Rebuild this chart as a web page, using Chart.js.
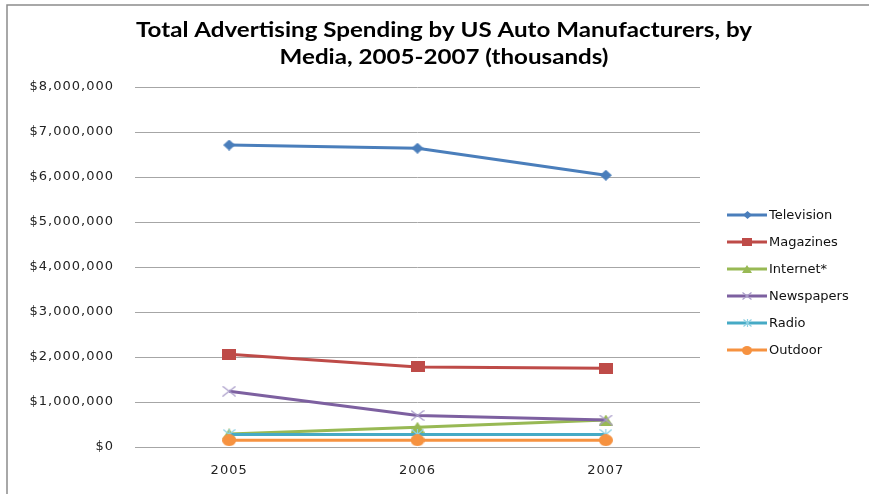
<!DOCTYPE html>
<html><head><meta charset="utf-8">
<script src="https://cdn.jsdelivr.net/npm/chart.js@4.4.1/dist/chart.umd.min.js"></script>
<style>html,body{margin:0;padding:0;background:#fff}#wrap{width:869px;height:494px;position:relative}</style>
</head><body><div id="wrap"><canvas id="c" width="869" height="494"></canvas></div>
<script>
// ---- data (thousands of US$) ----
const years = ['2005', '2006', '2007'];
const seriesNames = ['Television', 'Magazines', 'Internet*', 'Newspapers', 'Radio', 'Outdoor'];
const television = [6710000, 6640000, 6040000];
const magazines  = [2060000, 1780000, 1750000];
const internet   = [290000, 440000, 600000];
const newspapers = [1240000, 700000, 600000];
const radio      = [280000, 280000, 280000];
const outdoor    = [150000, 150000, 150000];
const yTicks = [0, 1000000, 2000000, 3000000, 4000000, 5000000, 6000000, 7000000, 8000000];
const titleLines = ['Total Advertising Spending by US Auto Manufacturers, by', 'Media, 2005-2007 (thousands)'];

const lineColors = ['#4A7EBB', '#BE4B48', '#98B954', '#7D60A0', '#46AAC5', '#F69240'];
const markerColors = ['#4A7EBB', '#BE4B48', '#98B954', '#A99CC9', '#8ED0E2', '#F69240'];
const markerKinds = ['diamond', 'square', 'triangle', 'x', 'star', 'circle'];

function makeMarker(kind, color, w, h) {
  const c = document.createElement('canvas');
  c.width = w; c.height = h;
  const g = c.getContext('2d');
  g.fillStyle = color; g.strokeStyle = color; g.lineWidth = 1.2;
  const cx = w / 2, cy = h / 2;
  g.beginPath();
  if (kind === 'diamond') {
    g.moveTo(cx, 0); g.lineTo(w, cy); g.lineTo(cx, h); g.lineTo(0, cy); g.closePath(); g.fill();
  } else if (kind === 'square') {
    g.rect(0, 0, w, h); g.fill();
  } else if (kind === 'triangle') {
    g.moveTo(cx, 0); g.lineTo(w, h); g.lineTo(0, h); g.closePath(); g.fill();
  } else if (kind === 'x') {
    g.moveTo(0.5, 0.5); g.lineTo(w - 0.5, h - 0.5); g.moveTo(w - 0.5, 0.5); g.lineTo(0.5, h - 0.5); g.stroke();
  } else if (kind === 'star') {
    g.moveTo(0.5, 0.5); g.lineTo(w - 0.5, h - 0.5); g.moveTo(w - 0.5, 0.5); g.lineTo(0.5, h - 0.5);
    g.moveTo(cx, 0); g.lineTo(cx, h); g.stroke();
  } else {
    g.ellipse(cx, cy, w / 2, h / 2, 0, 0, Math.PI * 2); g.fill();
  }
  return c;
}
const markerSizes = [[12, 11], [14, 11], [14, 11], [14, 11], [13, 11], [14, 12]];
const markers = markerKinds.map((k, i) => makeMarker(k, markerColors[i], markerSizes[i][0], markerSizes[i][1]));
const legendMarkers = markerKinds.map((k, i) => makeMarker(k, markerColors[i], Math.round(markerSizes[i][0] * 0.72), Math.round(markerSizes[i][1] * 0.72)));

const seriesValues = [television, magazines, internet, newspapers, radio, outdoor];
const datasets = seriesNames.map((name, i) => ({
  label: name,
  data: seriesValues[i],
  borderColor: lineColors[i],
  backgroundColor: lineColors[i],
  borderWidth: 3,
  pointStyle: markers[i],
  pointRadius: 6,
  tension: 0,
  order: seriesNames.length - i
}));

const decor = {
  id: 'decor',
  beforeDraw(chart) {
    const ctx = chart.ctx;
    ctx.save();
    ctx.fillStyle = '#fff';
    ctx.fillRect(0, 0, chart.width, chart.height);
    ctx.strokeStyle = '#8c8c8c';
    ctx.lineWidth = 1.5;
    ctx.beginPath();
    ctx.moveTo(7, 494); ctx.lineTo(7, 5); ctx.lineTo(869, 5);
    ctx.stroke();
    ctx.restore();
    ctx.letterSpacing = '1px';
  },
  afterDraw(chart) {
    const ctx = chart.ctx;
    ctx.letterSpacing = '0px';
    ctx.save();
    // title
    ctx.fillStyle = '#000';
    ctx.font = 'bold 20px Lato';
    ctx.textAlign = 'center';
    ctx.textBaseline = 'alphabetic';
    const w0 = ctx.measureText(titleLines[0]).width;
    const sx = 616 / w0;
    titleLines.forEach((t, i) => {
      ctx.save();
      ctx.translate(444, 37 + i * 27);
      ctx.scale(sx, 1);
      ctx.fillText(t, 0, 0);
      ctx.restore();
    });
    // legend
    ctx.font = '13px "DejaVu Sans"';
    ctx.textAlign = 'left';
    ctx.textBaseline = 'middle';
    chart.data.datasets.forEach((ds, i) => {
      const y = 215 + i * 27;
      ctx.strokeStyle = ds.borderColor;
      ctx.lineWidth = 3;
      ctx.beginPath();
      ctx.moveTo(727, y); ctx.lineTo(767, y);
      ctx.stroke();
      const m = legendMarkers[i];
      ctx.drawImage(m, Math.round(747 - m.width / 2), Math.round(y - m.height / 2));
      ctx.fillStyle = '#111';
      ctx.fillText(ds.label, 769, y + 0.5);
    });
    ctx.restore();
  }
};

new Chart(document.getElementById('c'), {
  type: 'line',
  data: { labels: years, datasets },
  options: {
    responsive: false,
    animation: false,
    devicePixelRatio: 1,
    layout: { padding: { top: 87, right: 169, bottom: 0, left: 0 } },
    plugins: { legend: { display: false }, title: { display: false }, tooltip: { enabled: false } },
    scales: {
      x: {
        offset: true,
        grid: { display: false, drawTicks: false },
        border: { display: false },
        ticks: { color: '#222', font: { family: 'DejaVu Sans', size: 13 }, padding: 16, maxRotation: 0 },
        afterFit(scale) { scale.height = 47; }
      },
      y: {
        min: 0, max: 8000000,
        grid: { color: '#a6a6a6', lineWidth: 1, drawTicks: false },
        border: { display: false },
        afterBuildTicks(scale) { scale.ticks = yTicks.map(v => ({ value: v })); },
        ticks: {
          color: '#222', padding: 21,
          font: { family: 'DejaVu Sans', size: 13 },
          callback: v => '$' + Number(v).toLocaleString('en-US')
        },
        afterFit(scale) { scale.width = 135; }
      }
    }
  },
  plugins: [decor]
});
</script></body></html>
